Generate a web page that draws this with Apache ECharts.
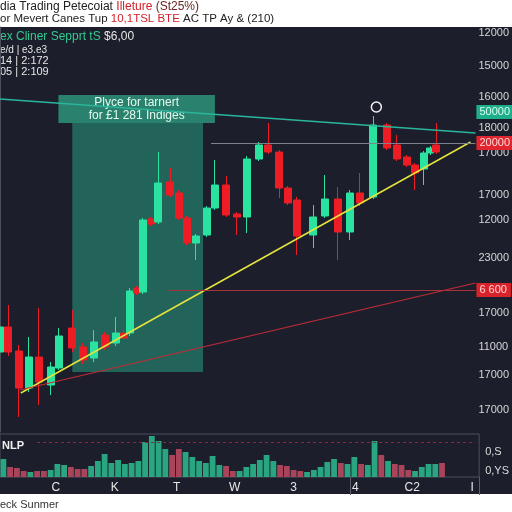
<!DOCTYPE html>
<html>
<head>
<meta charset="utf-8">
<script src="https://cdn.jsdelivr.net/npm/echarts@6/dist/echarts.min.js"></script>
<style>
  html, body { margin: 0; padding: 0; background: #fff; }
  .wrap { position: relative; width: 512px; height: 512px; overflow: hidden; }
  .panel { position: absolute; left: 0; top: 27px; width: 512px; height: 467px; background: #1c1f2b; }
  #chart { position: absolute; left: 0; top: 0; width: 512px; height: 512px; }
</style>
</head>
<body>
<div class="wrap">
  <div class="panel"></div>
  <div id="chart"></div>
</div>
<script>
// candle positions (bar slots) and OHLC
const candleX = [0.0, 0.85, 1.9, 2.9, 3.95, 5.1, 5.95, 7.3, 8.4, 9.5, 10.6, 11.7, 12.5, 13.1, 13.8,
  14.45, 15.2, 16.0, 17.2, 18.05, 18.9, 19.8, 20.85, 21.7, 22.85, 23.9, 24.9, 26.15, 27.1, 28.2,
  29.05, 30.0, 31.65, 32.8, 34.1, 35.3, 36.35, 37.7, 39.05, 40.05, 41.05, 41.9, 42.8, 43.45, 44.05];
const openVals = [11600, 12100, 11620, 10880, 11500, 10940, 11280, 12080, 11700, 11480, 11940, 11780, 11980, 11980, 12880,
  12800, 14260, 14200, 15000, 14780, 14280, 13780, 13940, 14480, 14940, 14360, 14300, 15460, 15740, 15600,
  14880, 14640, 13940, 14320, 14660, 14000, 14780, 14700, 16140, 15740, 15500, 15340, 15260, 15580, 15740];
const closeVals = [12100, 11600, 10880, 11500, 11000, 11300, 11920, 11680, 11440, 11800, 11700, 11980, 11880, 12820, 12780,
  14240, 14160, 14980, 14740, 14280, 13780, 13920, 14480, 14940, 14340, 14300, 15460, 15740, 15600, 14880,
  14580, 13920, 14300, 14660, 14000, 14780, 14580, 16140, 15680, 15460, 15340, 15180, 15580, 15680, 15600];
const lowVals = [11480, 11520, 10300, 10800, 10540, 10740, 11240, 11600, 11360, 11400, 11640, 11720, 11840, 11920, 12740,
  12760, 14120, 14160, 14700, 14240, 13740, 13440, 13900, 14440, 14300, 13940, 13980, 15420, 15560, 14680,
  14540, 13540, 13680, 14280, 13440, 13840, 14520, 14660, 15640, 15420, 15300, 14840, 14940, 15540, 15560];
const highVals = [12240, 12540, 11740, 11900, 12480, 11400, 12080, 12440, 11780, 12040, 12000, 12300, 12040, 12880, 12920,
  14280, 14300, 15600, 15280, 14840, 14320, 13960, 14520, 15440, 15120, 14400, 15520, 15800, 16180, 15640,
  14920, 14700, 14540, 15140, 14900, 14840, 15180, 16320, 16180, 15940, 15540, 15380, 15620, 15720, 16180];

// volume panel
const volumeVals = [180, 100, 90, 60, 50, 60, 60, 70, 130, 120, 100, 80, 80, 110, 160, 230, 140, 170, 130, 140,
  160, 350, 410, 360, 280, 220, 280, 250, 200, 160, 140, 210, 120, 110, 60, 60, 100, 130, 170, 220,
  160, 120, 110, 70, 60, 50, 70, 100, 150, 180, 140, 130, 200, 130, 120, 360, 220, 160, 130, 120,
  70, 60, 100, 130, 130, 140];
const volumeUp = [1, 0, 0, 0, 1, 0, 0, 1, 1, 1, 0, 0, 0, 1, 1, 1, 1, 1, 1, 1,
  1, 1, 1, 1, 1, 0, 0, 1, 1, 1, 1, 1, 1, 0, 0, 1, 1, 1, 1, 1,
  1, 0, 0, 0, 0, 1, 1, 1, 1, 1, 0, 1, 1, 0, 1, 1, 0, 1, 0, 0,
  0, 1, 1, 1, 1, 0];
const volumeSlots = 71;

// axis labels (as printed)
const priceTicks = [17980, 17320, 16700, 16080, 15580, 14740, 14240, 13480, 12380, 11700, 11140, 10440];
const priceLabels = ['12000', '15000', '16000', '18000', '17000', '17000', '12000', '23000', '17000', '11000', '17000', '17000'];
const volTicks = [250, 60];
const volLabels = ['0,S', '0,YS'];
const timeTicks = [5.6, 11.5, 17.7, 23.5, 29.4, 35.6, 41.3, 47.3];
const timeLabels = ['C', 'K', 'T', 'W', '3', '4', 'C2', 'I'];

// drawn overlays
const resistance = [[0, 16660], [48, 15980]];
const support = [[2.1, 10780], [47.5, 15800]];
const redTrend = [[2.0, 10840], [48, 12980]];
const grayLevel = [21.3, 48, 15780];
const redLevel = [17, 48, 12840];
const greenTag = 16400;
const zoneBody = [[7.3, 16180], [20.5, 11200]];
const zoneHead = [[5.9, 16740], [21.7, 16180]];
const markerCircle = [38.0, 16500];

const GREEN = '#2be3a1';
const RED = '#ee1d25';
const FONT = 'Liberation Sans, Arial, sans-serif';

const pick = (ticks, labels) => v => {
  let best = 0;
  ticks.forEach((t, i) => { if (Math.abs(t - v) < Math.abs(ticks[best] - v)) best = i; });
  return labels[best];
};

const chart = echarts.init(document.getElementById('chart'));

const candleData = candleX.map((x, i) => [x, openVals[i], closeVals[i], lowVals[i], highVals[i]]);
const volCats = Array.from({ length: volumeSlots }, (_, i) => String(i));
const volData = volumeVals.map((v, i) => ({
  value: v,
  itemStyle: { color: volumeUp[i] ? '#2aa582' : '#a9445b' }
}));

const tagLabel = (text, bg, fg) => ({
  show: true,
  position: 'end',
  distance: 1,
  formatter: text,
  color: fg,
  backgroundColor: bg,
  padding: [2, 4, 1, 3],
  fontSize: 11,
  fontFamily: FONT
});

const option = {
  animation: false,
  textStyle: { fontFamily: FONT },
  grid: [
    { left: 0, right: 32, top: 27, bottom: 80 },
    { left: 0, right: 32, top: 434, height: 43, show: true, borderColor: '#4a4f5c', borderWidth: 1 }
  ],
  xAxis: [
    { type: 'value', gridIndex: 0, min: 0, max: 48, show: false },
    { type: 'category', gridIndex: 1, data: volCats, position: 'top', show: false },
    {
      type: 'value', gridIndex: 1, min: 0, max: 48, position: 'bottom',
      axisLine: { show: false },
      splitLine: { show: false },
      axisTick: { show: true, customValues: [35.07, 48], length: 18, lineStyle: { color: '#5b606c' } },
      axisLabel: { customValues: timeTicks, formatter: pick(timeTicks, timeLabels), color: '#e8e8e8', fontSize: 12, margin: 5 }
    }
  ],
  yAxis: [
    {
      type: 'value', gridIndex: 0, position: 'right', min: 10000, max: 18100,
      axisLine: { show: true, lineStyle: { color: '#4a4f5c' } },
      axisTick: { show: false },
      splitLine: { show: false },
      axisLabel: { customValues: priceTicks, formatter: pick(priceTicks, priceLabels), color: '#d6d6d6', fontSize: 11, margin: 3 }
    },
    {
      type: 'value', gridIndex: 1, position: 'right', min: 0, max: 430,
      axisLine: { show: false },
      axisTick: { show: false },
      splitLine: { show: false },
      axisLabel: { customValues: volTicks, formatter: pick(volTicks, volLabels), color: '#dcdcdc', fontSize: 11, margin: 6 }
    }
  ],
  graphic: [
    {
      type: 'text', x: 0, y: 7,
      style: {
        text: '{k|dia Trading Petecoiat }{r|Illeture}{d| (St25%)}',
        verticalAlign: 'middle',
        rich: {
          k: { fill: '#222', fontSize: 12, fontFamily: FONT },
          r: { fill: '#d2202a', fontSize: 12, fontFamily: FONT },
          d: { fill: '#6a2424', fontSize: 12, fontFamily: FONT }
        }
      }
    },
    {
      type: 'text', x: 0, y: 19,
      style: {
        text: '{k|or Mevert Canes Tup }{r|10,1TSL BTE}{k| AC TP Ay & (210)}',
        verticalAlign: 'middle',
        rich: {
          k: { fill: '#222', fontSize: 11.5, fontFamily: FONT },
          r: { fill: '#d2202a', fontSize: 11.5, fontFamily: FONT }
        }
      }
    },
    {
      type: 'text', x: 0, y: 37,
      style: {
        text: '{g|ex Cliner Sepprt tS }{w|$6,00}',
        verticalAlign: 'middle',
        rich: {
          g: { fill: '#33c98f', fontSize: 12, fontFamily: FONT },
          w: { fill: '#e6e6e6', fontSize: 12, fontFamily: FONT }
        }
      }
    },
    { type: 'text', x: 0, y: 50, style: { text: 'e/d | e3.e3', fill: '#e6e6e6', fontSize: 10, fontFamily: FONT, verticalAlign: 'middle' } },
    { type: 'text', x: 0, y: 61, style: { text: '14 | 2:172', fill: '#e6e6e6', fontSize: 11, fontFamily: FONT, verticalAlign: 'middle' } },
    { type: 'text', x: 0, y: 72, style: { text: '05 | 2:109', fill: '#e6e6e6', fontSize: 11, fontFamily: FONT, verticalAlign: 'middle' } },
    { type: 'text', x: 2, y: 446, style: { text: 'NLP', fill: '#f0f0f0', fontSize: 11, fontWeight: 'bold', fontFamily: FONT, verticalAlign: 'middle' } },
    { type: 'text', x: 0, y: 505, style: { text: 'eck Sunmer', fill: '#333', fontSize: 11, fontFamily: FONT, verticalAlign: 'middle' } }
  ],
  series: [
    {
      name: 'price',
      type: 'candlestick',
      xAxisIndex: 0,
      yAxisIndex: 0,
      barWidth: 7.5,
      itemStyle: {
        color: GREEN,
        color0: RED,
        borderColor: GREEN,
        borderColor0: RED,
        borderWidth: 1
      },
      data: candleData,
      markArea: {
        silent: true,
        data: [
          [
            { coord: zoneBody[0], itemStyle: { color: 'rgba(44,178,145,0.47)' } },
            { coord: zoneBody[1] }
          ],
          [
            {
              coord: zoneHead[0],
              itemStyle: { color: 'rgba(52,190,150,0.62)' },
              label: {
                show: true,
                position: 'inside',
                formatter: 'Plyce for tarnert\nfor £1 281 Indiges',
                color: '#e3fbf1',
                fontSize: 12,
                fontWeight: 500,
                lineHeight: 13,
                fontFamily: FONT
              }
            },
            { coord: zoneHead[1] }
          ]
        ]
      },
      markLine: {
        silent: true,
        symbol: 'none',
        label: { show: false },
        data: [
          [{ coord: resistance[0], lineStyle: { color: '#2bb59c', width: 1.5, type: 'solid' } }, { coord: resistance[1] }],
          [{ coord: support[0], lineStyle: { color: '#e6e43c', width: 1.5, type: 'solid' } }, { coord: support[1] }],
          [{ coord: redTrend[0], lineStyle: { color: '#c22a36', width: 1.2, type: 'solid' } }, { coord: redTrend[1] }],
          [
            { coord: [grayLevel[0], grayLevel[2]], lineStyle: { color: '#7d828e', width: 1, type: 'solid' }, label: tagLabel('20000', '#e0252e', '#ffd6d6') },
            { coord: [grayLevel[1], grayLevel[2]] }
          ],
          [
            { coord: [redLevel[0], redLevel[2]], lineStyle: { color: '#a8323c', width: 1, type: 'solid' }, label: tagLabel('6 600', '#d8232c', '#ffd6d6') },
            { coord: [redLevel[1], redLevel[2]] }
          ],
          [
            { coord: [0, greenTag], lineStyle: { color: 'rgba(0,0,0,0)', width: 1 }, label: tagLabel('50000', '#1fae8b', '#d8fff0') },
            { coord: [48, greenTag] }
          ]
        ]
      },
      markPoint: {
        silent: true,
        data: [{
          coord: markerCircle,
          symbol: 'circle',
          symbolSize: 10,
          itemStyle: { color: 'rgba(0,0,0,0)', borderColor: '#f0f0f0', borderWidth: 1.5 },
          label: { show: false }
        }]
      }
    },
    {
      name: 'volume',
      type: 'bar',
      xAxisIndex: 1,
      yAxisIndex: 1,
      barCategoryGap: '14%',
      data: volData,
      markLine: {
        silent: true,
        symbol: 'none',
        label: { show: false },
        lineStyle: { color: '#8e2a3c', type: [3, 3], width: 1 },
        data: [[{ coord: ['5', 350] }, { coord: ['70', 350] }]]
      }
    }
  ]
};

chart.setOption(option);
window.addEventListener('resize', () => chart.resize());
</script>
</body>
</html>
